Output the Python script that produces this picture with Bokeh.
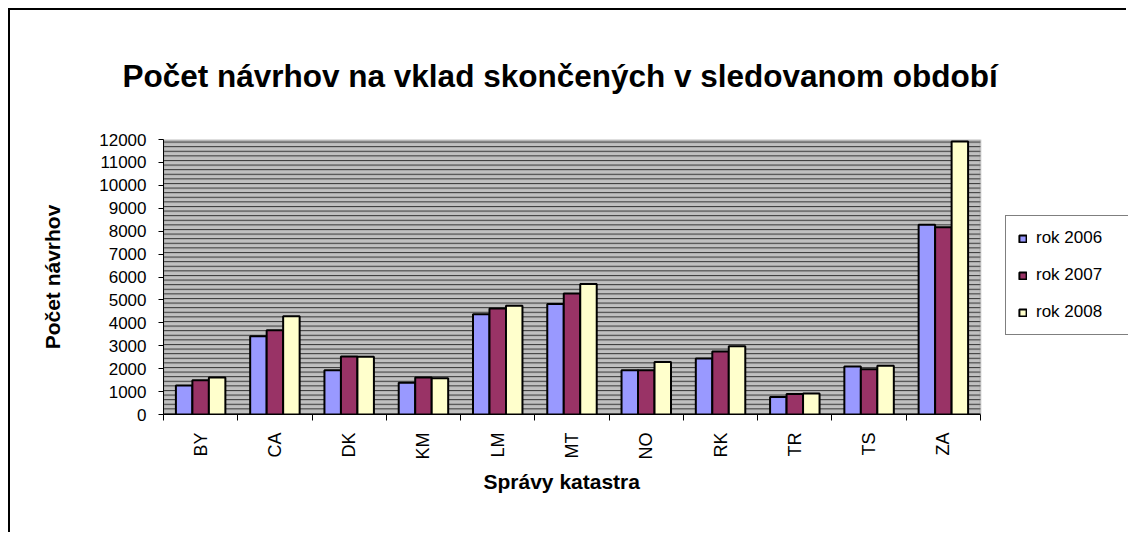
from bokeh.plotting import figure
from bokeh.models import (Range1d, FixedTicker, SingleIntervalTicker, BoxAnnotation,
                          Legend, LegendItem, ColumnDataSource, Title)
from bokeh.embed import file_html
from bokeh.resources import INLINE

categories = ["BY", "CA", "DK", "KM", "LM", "MT", "NO", "RK", "TR", "TS", "ZA"]
series_names = ["rok 2006", "rok 2007", "rok 2008"]
rok_2006 = [1270, 3420, 1930, 1390, 4370, 4820, 1930, 2440, 760, 2100, 8280]
rok_2007 = [1490, 3680, 2530, 1620, 4630, 5285, 1930, 2745, 890, 1970, 8175]
rok_2008 = [1620, 4290, 2520, 1580, 4745, 5690, 2290, 2980, 920, 2130, 11915]
y_ticks_max = 12000

FONT = "Liberation Sans"
colors = ["#9999FF", "#993366", "#FFFFCC"]

# figure content starts at page (10, 10): 8px margin + 2px border
OX, OY = 10, 10
W, H = 1118, 524
FL, FT, FR, FB = 163 - OX, 139 - OY, 980 - OX, 414 - OY
n = len(categories)
# frame extends to the right edge of the canvas so that the legend fits inside it
x_end = n * (W - FL) / (FR - FL)
p = figure(width=W, height=H, output_backend="svg", toolbar_location=None,
           x_range=Range1d(0, x_end), y_range=Range1d(0, y_ticks_max),
           min_border_left=FL, min_border_top=FT, min_border_right=0,
           min_border_bottom=H - FB, tools="")
p.margin = (8, 0, 0, 8)
p.styles = {"border-left": "2px solid black", "border-top": "2px solid black"}

p.background_fill_color = "white"
p.border_fill_color = "white"
p.outline_line_color = None
p.xgrid.visible = False
p.ygrid.visible = False

bg = BoxAnnotation(left=0, right=n, fill_color="#C0C0C0", fill_alpha=1.0,
                   line_color="#808080", line_width=2,
                   hatch_pattern="horizontal_line", hatch_color="black",
                   hatch_scale=4.6, hatch_weight=1, hatch_alpha=0.75, level="underlay")
p.add_layout(bg)

bw = 0.222
offsets = [-bw, 0.0, bw]
renderers = []
for vals, col, off in zip([rok_2006, rok_2007, rok_2008], colors, offsets):
    src = ColumnDataSource(dict(x=[i + 0.5 + off for i in range(n)], top=vals))
    r = p.vbar(x="x", top="top", width=bw, bottom=0, source=src,
               fill_color=col, line_color="black", line_width=2)
    renderers.append(r)

# x axis
centers = [i + 0.5 for i in range(n)]
p.xaxis.bounds = (0, n)
p.xaxis.ticker = FixedTicker(ticks=centers, minor_ticks=list(range(n + 1)))
p.xaxis.major_label_overrides = {c: cat for c, cat in zip(centers, categories)}
p.xaxis.major_tick_out = 0
p.xaxis.major_tick_in = 0
p.xaxis.minor_tick_out = 6
p.xaxis.minor_tick_in = 0
p.xaxis.minor_tick_line_color = "black"
p.xaxis.major_label_orientation = 3.14159265 / 2
p.xaxis.major_label_standoff = 12
p.xaxis.major_label_text_font = FONT
p.xaxis.major_label_text_font_size = "18px"
p.xaxis.major_label_text_color = "black"
p.xaxis.axis_line_color = "black"

# x axis title, placed under the category labels
xtitle = Title(text="Správy katastra", align="left", offset=483 - 163, standoff=10,
               text_font=FONT, text_font_style="bold", text_font_size="21px",
               text_color="black")
p.add_layout(xtitle, "below")

# y axis
p.yaxis.ticker = SingleIntervalTicker(interval=1000, num_minor_ticks=0)
p.yaxis.major_tick_out = 5
p.yaxis.major_tick_in = 0
p.yaxis.minor_tick_line_color = None
p.yaxis.major_label_standoff = 12
p.yaxis.major_label_text_font = FONT
p.yaxis.major_label_text_font_size = "17px"
p.yaxis.major_label_text_color = "black"
p.yaxis.axis_line_color = "black"
p.yaxis.axis_label = "Počet návrhov"
p.yaxis.axis_label_text_font = FONT
p.yaxis.axis_label_text_font_style = "bold"
p.yaxis.axis_label_text_font_size = "21px"
p.yaxis.axis_label_text_color = "black"
p.yaxis.axis_label_standoff = 32

# title
p.title.text = "Počet návrhov na vklad skončených v sledovanom období"
p.title.text_font = FONT
p.title.text_font_style = "bold"
p.title.text_font_size = "31.5px"
p.title.text_color = "black"
p.title.align = "left"
p.title.vertical_align = "top"
p.title.offset = 122 - 163
p.title.standoff = 88

legend = Legend(items=[LegendItem(label=s, renderers=[r]) for s, r in zip(series_names, renderers)],
                location=(1005 - 163, 414 - 335), padding=12, spacing=17,
                glyph_width=9, glyph_height=9, label_standoff=9, label_width=80,
                label_text_font=FONT, label_text_font_size="17px", label_text_color="black",
                border_line_color="black", border_line_width=1, background_fill_color="white",
                background_fill_alpha=1.0)
p.add_layout(legend)

open("out.html", "w").write(file_html(p, INLINE))
